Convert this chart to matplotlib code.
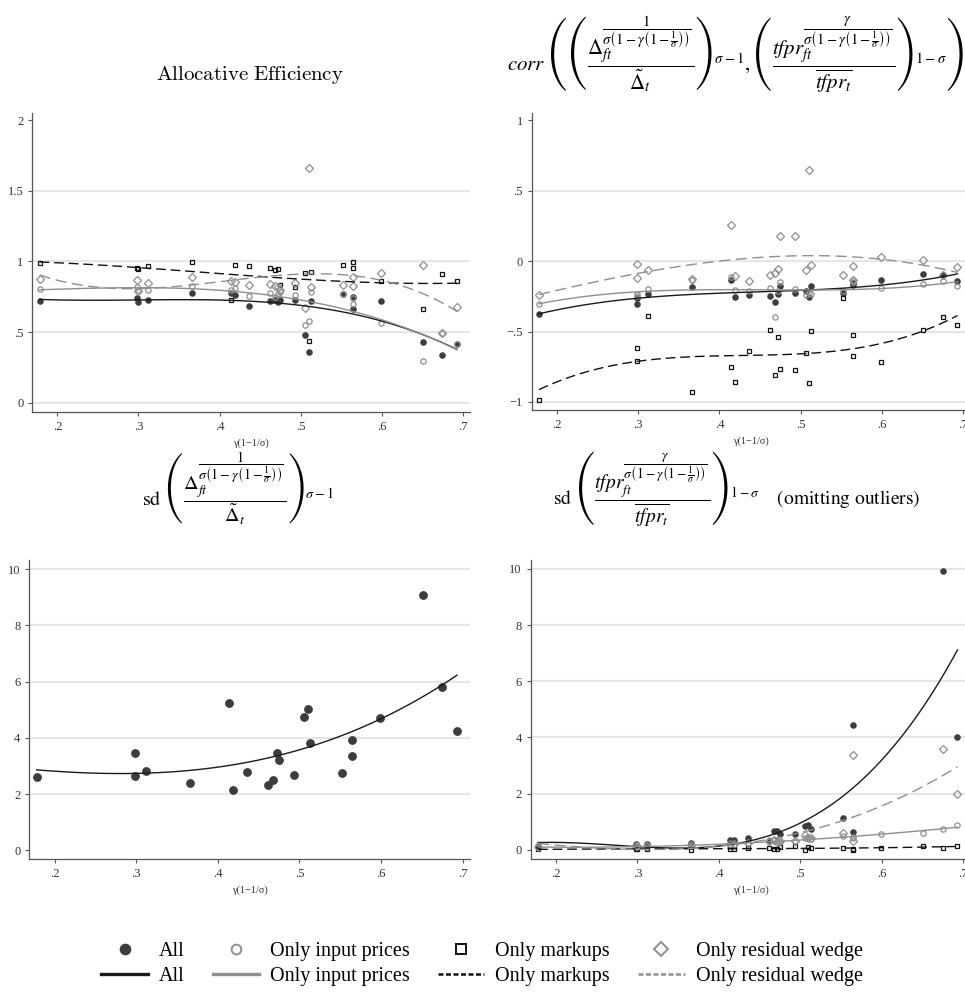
import numpy as np
import matplotlib
matplotlib.use("Agg")
import matplotlib.pyplot as plt
from matplotlib.lines import Line2D

plt.rcParams['mathtext.fontset'] = 'cm'
plt.rcParams['font.family'] = ['Liberation Serif', 'DejaVu Serif']

# x values: gamma(1-1/sigma), one per industry
gam = [0.178, 0.298, 0.299, 0.312, 0.366, 0.414, 0.419, 0.436, 0.462, 0.468, 0.472, 0.475,
       0.493, 0.506, 0.510, 0.513, 0.552, 0.565, 0.565, 0.599, 0.651, 0.675, 0.693]

# allocative efficiency
ae_all = [0.719, 0.743, 0.715, 0.727, 0.774, 0.776, 0.759, 0.682, 0.719, 0.724, 0.710, 0.724,
          0.724, 0.479, 0.356, 0.719, 0.771, 0.750, 0.660, 0.719, 0.427, 0.335, 0.413]
ae_input = [0.804, 0.818, 0.797, 0.797, 0.828, 0.797, 0.814, 0.755, 0.776, 0.745, 0.767, 0.785,
            0.762, 0.550, 0.578, 0.781, 0.770, 0.740, 0.698, 0.561, 0.292, 0.495, 0.413]
ae_markup = [0.990, 0.953, 0.948, 0.967, 0.993, 0.724, 0.974, 0.969, 0.953, 0.936, 0.943, 0.833,
             0.816, 0.917, 0.436, 0.922, 0.974, 0.993, 0.950, 0.861, 0.660, 0.908, 0.863]
ae_resid = [0.877, 0.868, 0.790, 0.845, 0.892, 0.863, 0.851, 0.833, 0.840, 0.828, 0.816, 0.795,
            0.847, 0.672, 1.658, 0.818, 0.833, 0.892, 0.825, 0.917, 0.972, 0.495, 0.677]

# correlation
co_all = [-0.378, -0.26, -0.307, -0.232, -0.182, -0.137, -0.253, -0.239, -0.248, -0.291, -0.232, -0.175,
          -0.225, -0.213, -0.253, -0.173, -0.225, -0.154, -0.17, -0.132, -0.092, -0.099, -0.142]
co_input = [-0.303, -0.235, -0.25, -0.2, -0.135, -0.113, -0.208, -0.213, -0.194, -0.395, -0.213, -0.147,
            -0.2, -0.243, -0.225, -0.23, -0.213, -0.135, -0.145, -0.194, -0.165, -0.144, -0.18]
co_markup = [-0.986, -0.617, -0.712, -0.388, -0.927, -0.749, -0.858, -0.64, -0.489, -0.806, -0.539, -0.768,
             -0.775, -0.655, -0.863, -0.499, -0.262, -0.527, -0.674, -0.716, -0.487, -0.40, -0.454]
co_resid = [-0.239, -0.017, -0.123, -0.061, -0.13, 0.26, -0.104, -0.139, -0.097, -0.087, -0.059, 0.182,
            0.18, -0.064, 0.648, -0.026, -0.099, -0.031, -0.135, 0.028, 0.009, -0.099, -0.04]

# sd of distortions
sd_all = [2.62, 3.45, 2.64, 2.81, 2.39, 5.24, 2.14, 2.79, 2.33, 2.50, 3.45, 3.20,
          2.69, 4.73, 5.04, 3.83, 2.75, 3.92, 3.34, 4.70, 9.06, 5.80, 4.25]

# sd of tfpr (outliers omitted -> nan)
nan = np.nan
st_all = [0.12, 0.20, 0.14, 0.20, 0.25, 0.33, 0.36, 0.40, 0.30, 0.68, 0.67, 0.55,
          0.56, 0.85, 0.89, 0.73, 1.12, 4.46, 0.63, nan, nan, 9.93, 4.02]
st_input = [0.10, 0.12, 0.10, 0.12, 0.15, 0.15, 0.18, 0.25, 0.31, 0.35, 0.30, 0.28,
            0.30, 0.40, 0.44, 0.38, 0.49, 0.45, 0.40, 0.55, 0.61, 0.73, 0.87]
st_markup = [0.02, 0.03, 0.02, 0.03, 0.00, 0.03, 0.02, 0.05, 0.06, 0.02, 0.04, 0.10,
             0.12, 0.00, 0.10, 0.05, 0.05, 0.03, 0.00, 0.06, 0.12, 0.07, 0.15]
st_resid = [0.08, 0.15, 0.12, 0.15, 0.18, 0.20, 0.22, 0.25, 0.30, 0.35, 0.28, 0.32,
            0.31, 0.52, 0.42, 0.40, 0.61, 3.38, 0.31, nan, nan, 3.59, 1.99]

W, H = 965, 992
fig = plt.figure(figsize=(W / 100, H / 100), dpi=100)


def px_axes(l, t, r, b):
    return fig.add_axes([l / W, 1 - b / H, (r - l) / W, (b - t) / H])


def lab(v, pos=None):
    s = ('%g' % round(v, 2))
    s = s.replace('0.', '.')
    return s.replace('-', '\u2212')


dark = '#3c3c3c'
grey = '#8f8f8f'
styles = {
    'all': dict(marker='o', mfc=dark, mec=dark, color='#1a1a1a', ls='-'),
    'input': dict(marker='o', mfc='none', mec=grey, color=grey, ls='-'),
    'markup': dict(marker='s', mfc='none', mec='#111111', color='#111111', ls=(0, (7, 3.5))),
    'resid': dict(marker='D', mfc='none', mec=grey, color=grey, ls=(0, (8, 4))),
}


def setup(ax, ylim, yticks, grid):
    ax.set_xlim(0.169, 0.709)
    ax.set_ylim(*ylim)
    ax.set_xticks([0.2, 0.3, 0.4, 0.5, 0.6, 0.7])
    ax.set_yticks(yticks)
    ax.xaxis.set_major_formatter(plt.FuncFormatter(lab))
    ax.yaxis.set_major_formatter(plt.FuncFormatter(lab))
    for s in ['top', 'right']:
        ax.spines[s].set_visible(False)
    for s in ['left', 'bottom']:
        ax.spines[s].set_color('#555555')
        ax.spines[s].set_linewidth(0.9)
    ax.tick_params(colors='#555555', labelcolor='#333333', labelsize=9, length=3, width=0.8)
    for g in grid:
        ax.axhline(g, color='#e6e6e6', lw=1.6, zorder=0)
    ax.set_xlabel('\u03b3(1\u22121/\u03c3)', fontsize=7.5, color='#333333', labelpad=4)


def panel(ax, series, ms=3.8, fit=True):
    x = np.array(gam)
    for key, y in series:
        st = styles[key]
        y = np.array(y)
        ms_k = ms + (0.6 if st['marker'] == 'D' else 0) - (0.4 if st['marker'] == 's' else 0)
        ax.plot(x, y, ls='none', marker=st['marker'], ms=ms_k, mfc=st['mfc'],
                mec=st['mec'], mew=0.9, zorder=3)
    if fit:
        for key, y in series:
            st = styles[key]
            y = np.array(y)
            ok = ~np.isnan(y)
            c = np.polyfit(x[ok], y[ok], 3)
            xs = np.linspace(x[ok].min(), x[ok].max(), 100)
            ax.plot(xs, np.polyval(c, xs), color=st['color'], ls=st['ls'], lw=1.0, zorder=4)


ax1 = px_axes(32.3, 113, 470, 411.7)
setup(ax1, (-0.064, 2.05), [0, 0.5, 1, 1.5, 2], [0, 0.5, 1, 1.5])
panel(ax1, [('all', ae_all), ('input', ae_input), ('markup', ae_markup), ('resid', ae_resid)])

ax2 = px_axes(531.7, 113, 970.5, 410)
setup(ax2, (-1.057, 1.052), [-1, -0.5, 0, 0.5, 1], [-1, -0.5, 0, 0.5])
panel(ax2, [('all', co_all), ('input', co_input), ('markup', co_markup), ('resid', co_resid)])

ax3 = px_axes(29.3, 560, 470, 858.7)
setup(ax3, (-0.3, 10.32), [0, 2, 4, 6, 8, 10], [2, 4, 6, 8, 10])
panel(ax3, [('all', sd_all)], ms=5.4)

ax4 = px_axes(530.7, 560, 970.5, 858.7)
setup(ax4, (-0.32, 10.32), [0, 2, 4, 6, 8, 10], [2, 4, 6, 8, 10])
panel(ax4, [('all', st_all), ('input', st_input), ('markup', st_markup), ('resid', st_resid)])

# titles (stix math font: its big delimiters render correctly)
expo1 = r'\dfrac{1}{\sigma\left(1-\gamma\left(1-\frac{1}{\sigma}\right)\right)}'
expog = r'\dfrac{\gamma}{\sigma\left(1-\gamma\left(1-\frac{1}{\sigma}\right)\right)}'
fig.text(250 / W, 1 - 75 / H, r'$\mathrm{Allocative\ Efficiency}$', ha='center', va='center', fontsize=15)
t2 = (r'$corr\ \left(\left(\dfrac{\Delta_{ft}^{' + expo1 + r'}}{\tilde{\Delta}_t}\right)^{\sigma-1},'
      r'\left(\dfrac{tfpr_{ft}^{' + expog + r'}}{\overline{tfpr_t}}\right)^{1-\sigma}\right)$')
fig.text(735 / W, 1 - 55 / H, t2, ha='center', va='center', fontsize=15, math_fontfamily='stix')
t3 = (r'$\mathrm{sd}\ \left(\dfrac{\Delta_{ft}^{' + expo1 + r'}}{\tilde{\Delta}_t}\right)^{\sigma-1}$')
fig.text(238 / W, 1 - 489 / H, t3, ha='center', va='center', fontsize=14.5, math_fontfamily='stix')
t4 = (r'$\mathrm{sd}\ \left(\dfrac{tfpr_{ft}^{' + expog + r'}}{\overline{tfpr_t}}\right)^{1-\sigma}'
      r'\quad\ \mathrm{(omitting\ outliers)}$')
fig.text(737 / W, 1 - 489 / H, t4, ha='center', va='center', fontsize=14, math_fontfamily='stix')

# legend
names = ['All', 'Only input prices', 'Only markups', 'Only residual wedge']
handles, labels = [], []
for key, nm in zip(['all', 'input', 'markup', 'resid'], names):
    st = styles[key]
    handles.append(Line2D([], [], ls='none', marker=st['marker'], ms=7 if key != 'resid' else 7.5,
                          mfc=st['mfc'], mec=st['mec'], mew=1.4))
    labels.append(nm)
    handles.append(Line2D([], [], color=st['color'], ls='-' if key in ('all', 'input') else (0, (2, 1)),
                          lw=2.4 if key in ('all', 'input') else 1.8))
    labels.append(nm)
fig.legend(handles, labels, ncol=4, loc='center', bbox_to_anchor=(482 / W, 1 - 964 / H),
           frameon=False, fontsize=14.5, handlelength=2.3, handletextpad=0.55,
           columnspacing=1.4, labelspacing=0.3)

fig.savefig('out.png', dpi=100)
